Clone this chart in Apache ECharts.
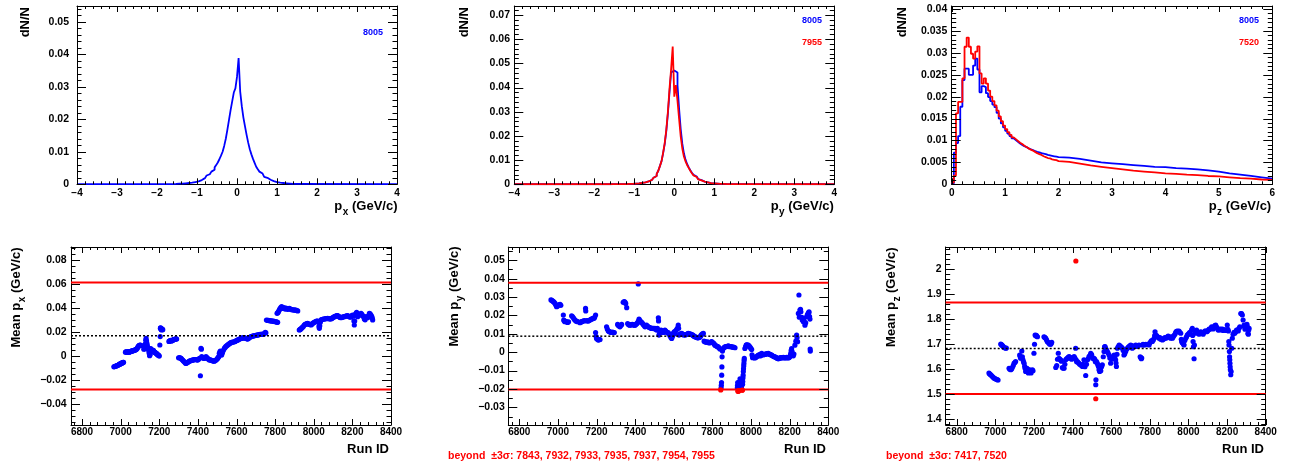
<!DOCTYPE html>
<html><head><meta charset="utf-8">
<script src="https://cdn.jsdelivr.net/npm/echarts@6/dist/echarts.min.js"></script>
<style>html,body{margin:0;padding:0;background:#fff}#c{width:1289px;height:466px}</style>
</head><body><div id="c"></div>
<script>
// ---------------- DATA ----------------
// Histograms (dN/N per bin)
const pxBinStart = -1.6, pxBinWidth = 0.04, pxRange = [-4, 4], pxTailValue = 0.00003;
const px8005 = [0.0001,0.0001,0.0001,0.0002,0.0002,0.0002,0.0002,0.0003,0.0003,0.0004,0.0004,0.0005,0.0006,0.0007,0.0008,0.0009,0.0011,0.0013,0.0016,0.0019,0.0023,0.0027,0.0031,0.0035,0.0039,0.0045,0.0052,0.0059,0.0067,0.0077,0.0088,0.0100,0.0118,0.0140,0.0168,0.0198,0.0228,0.0255,0.0282,0.0295,
  0.0330,0.0388,0.0285,0.0240,0.0205,0.0178,0.0152,0.0128,0.0108,0.0092,0.0078,0.0066,0.0054,0.0046,0.0039,0.0033,0.0027,0.0023,0.0020,0.0017,0.0014,0.0012,0.0010,0.0009,0.0007,0.0006,0.0005,0.0004,0.0004,0.0003,0.0003,0.0002,0.0002,0.0002,0.0001,0.0001,0.0001,0.0001,0.0001,0.0001];

const pyBinStart = -1.6, pyBinWidth = 0.04, pyRange = [-4, 4], pyTailValue = 0.00003;
const py8005 = [0.0001,0.0001,0.0001,0.0001,0.0001,0.0001,0.0001,0.0001,0.0001,0.0001,0.0002,0.0002,0.0002,0.0002,0.0002,0.0003,0.0003,0.0004,0.0005,0.0006,0.0007,0.0008,0.0010,0.0012,0.0015,0.0018,0.0022,0.0027,0.0034,0.0043,0.0056,0.0075,0.0095,0.0128,0.0166,0.0220,0.0292,0.0380,0.0462,0.0470,
  0.0470,0.0462,0.0410,0.0312,0.0228,0.0168,0.0128,0.0102,0.0084,0.0070,0.0058,0.0048,0.0039,0.0032,0.0026,0.0021,0.0017,0.0014,0.0011,0.0009,0.0008,0.0006,0.0005,0.0004,0.0004,0.0003,0.0003,0.0003,0.0002,0.0002,0.0002,0.0002,0.0001,0.0001,0.0001,0.0001,0.0001,0.0001,0.0001,0.0001];
const py7955 = [0.0001,0.0001,0.0001,0.0001,0.0001,0.0001,0.0001,0.0001,0.0001,0.0001,0.0002,0.0002,0.0002,0.0002,0.0002,0.0003,0.0003,0.0004,0.0005,0.0006,0.0007,0.0008,0.0010,0.0012,0.0015,0.0018,0.0022,0.0027,0.0034,0.0043,0.0056,0.0075,0.0095,0.0130,0.0170,0.0225,0.0300,0.0395,0.0475,0.0569,
  0.0362,0.0410,0.0345,0.0270,0.0198,0.0148,0.0115,0.0095,0.0080,0.0068,0.0056,0.0046,0.0037,0.0030,0.0025,0.0020,0.0016,0.0013,0.0011,0.0009,0.0008,0.0006,0.0005,0.0004,0.0004,0.0003,0.0003,0.0003,0.0002,0.0002,0.0002,0.0002,0.0001,0.0001,0.0001,0.0001,0.0001,0.0001,0.0001,0.0001];

const pzRange = [0, 6];
const pzFineStart = 0, pzFineWidth = 0.04;      // 0 .. 2
const pzCoarseStart = 2, pzCoarseWidth = 0.2;   // 2 .. 6
const pz8005Fine = [0.0002,0.0072,0.0094,0.0110,0.0177,0.0238,0.0264,0.0264,0.0250,0.0250,0.0271,0.0287,0.0262,0.0210,0.0224,0.0222,0.0208,0.0199,0.0190,0.0182,
  0.0176,0.0163,0.0150,0.0139,0.0130,0.0122,0.0116,0.0110,0.0105,0.0101,0.0097,0.0093,0.0090,0.0087,0.0085,0.0082,0.0080,0.0078,0.0076,0.0074,
  0.0073,0.0071,0.0070,0.0069,0.0067,0.0066,0.0065,0.0064,0.0063,0.0062];
const pz8005Coarse = [0.0061,0.0058,0.0054,0.0050,0.0048,0.0046,0.0044,0.0042,0.0040,0.0039,0.0037,0.0036,0.0034,0.0032,0.0029,0.0025,0.0022,0.0019,0.0016,0.0013];
const pz7520Fine = [0.0004,0.0020,0.0162,0.0188,0.0188,0.0242,0.0314,0.0335,0.0314,0.0298,0.0287,0.0303,0.0315,0.0253,0.0230,0.0242,0.0230,0.0214,0.0200,0.0190,
  0.0180,0.0168,0.0155,0.0144,0.0134,0.0126,0.0119,0.0113,0.0107,0.0103,0.0099,0.0095,0.0092,0.0088,0.0085,0.0082,0.0079,0.0077,0.0074,0.0071,
  0.0069,0.0067,0.0064,0.0062,0.0060,0.0059,0.0057,0.0056,0.0055,0.0053];
const pz7520Coarse = [0.0051,0.0047,0.0043,0.0040,0.0037,0.0034,0.0031,0.0029,0.0027,0.0025,0.0024,0.0022,0.0021,0.0019,0.0018,0.0016,0.0014,0.0013,0.0011,0.0010];

// Run-by-run means: [run, mean]
const meanPx = [[6965,-0.0092],[6968,-0.0090],[6972,-0.0088],[6975,-0.0086],[6978,-0.0085],[6982,-0.0082],[6985,-0.0080],[6988,-0.0077],[6990,-0.0075],[6993,-0.0072],[6995,-0.0070],[6998,-0.0068],[7000,-0.0066],[7003,-0.0064],[7005,-0.0062],[7008,-0.0060],[7010,-0.0058],[7013,-0.0056],[7015,-0.0055],
[7025,0.0030],[7028,0.0033],[7030,0.0032],[7033,0.0029],[7035,0.0028],[7038,0.0031],[7040,0.0034],[7043,0.0032],[7045,0.0030],[7048,0.0033],[7050,0.0035],[7053,0.0036],[7055,0.0038],[7058,0.0039],[7060,0.0040],[7063,0.0041],[7065,0.0042],[7068,0.0044],[7070,0.0045],[7073,0.0047],[7075,0.0050],[7078,0.0051],[7080,0.0052],[7083,0.0056],[7085,0.0060],[7088,0.0068],[7090,0.0075],[7093,0.0080],[7095,0.0085],[7098,0.0087],[7100,0.0088],[7103,0.0087],[7105,0.0086],
[7120,0.0055],[7123,0.0058],[7125,0.0060],[7127,0.0090],[7128,0.0100],[7130,0.0130],[7132,0.0145],[7134,0.0125],[7135,0.0110],[7137,0.0095],[7138,0.0080],[7140,0.0070],[7143,0.0060],[7145,0.0050],[7147,0.0035],[7148,0.0020],[7150,0.0000],[7153,0.0010],[7155,0.0060],[7158,0.0055],[7160,0.0050],[7163,0.0045],[7165,0.0040],[7168,0.0042],[7170,0.0045],[7173,0.0035],[7175,0.0030],[7178,0.0028],[7180,0.0025],[7183,0.0022],[7185,0.0020],[7188,0.0015],[7190,0.0010],[7193,0.0008],[7195,0.0005],[7198,0.0002],[7200,-0.0003],
[7203,0.0090],[7205,0.0160],[7206,0.0230],[7207,0.0234],[7208,0.0225],[7210,0.0220],[7212,0.0215],[7213,0.0225],[7215,0.0222],[7218,0.0218],
[7250,0.0120],[7253,0.0122],[7255,0.0125],[7258,0.0127],[7260,0.0128],[7263,0.0124],[7265,0.0125],[7268,0.0128],[7270,0.0130],[7273,0.0133],[7275,0.0135],[7278,0.0137],[7280,0.0138],[7283,0.0139],[7285,0.0140],[7288,0.0141],[7290,0.0140],
[7300,-0.0017],[7305,-0.0015],[7310,-0.0020],[7313,-0.0022],[7317,-0.0030],[7321,-0.0036],[7325,-0.0043],[7330,-0.0050],[7334,-0.0058],[7338,-0.0064],[7342,-0.0060],[7347,-0.0056],[7351,-0.0050],[7356,-0.0045],[7360,-0.0042],[7365,-0.0040],[7370,-0.0037],[7373,-0.0036],[7378,-0.0034],[7382,-0.0032],[7386,-0.0033],[7390,-0.0031],[7395,-0.0034],[7399,-0.0036],[7404,-0.0030],[7408,-0.0022],[7413,-0.0167],[7416,0.0061],[7418,0.0055],[7420,-0.0008],[7425,-0.0015],[7429,-0.0020],[7433,-0.0022],[7438,-0.0015],[7442,-0.0008],[7446,-0.0015],[7451,-0.0022],[7455,-0.0030],[7459,-0.0036],[7464,-0.0034],[7468,-0.0036],[7472,-0.0040],[7477,-0.0042],[7481,-0.0044],[7485,-0.0045],[7490,-0.0040],[7494,-0.0036],[7498,-0.0030],[7502,-0.0022],[7505,-0.0015],[7508,-0.0008],[7511,0.0020],[7514,0.0030],[7516,0.0039],[7520,0.0015],[7523,0.0006],[7526,0.0020],[7528,0.0033],[7532,0.0045],[7537,0.0061],[7541,0.0070],[7545,0.0078],[7550,0.0084],[7554,0.0089],[7558,0.0095],[7562,0.0100],[7567,0.0105],[7571,0.0109],[7575,0.0112],[7580,0.0115],[7584,0.0114],[7589,0.0117],[7593,0.0120],[7597,0.0125],[7602,0.0128],[7606,0.0131],[7610,0.0134],[7615,0.0139],[7619,0.0142],[7623,0.0145],[7628,0.0147],[7632,0.0149],[7636,0.0150],[7641,0.0151],[7645,0.0148],[7650,0.0144],[7654,0.0141],[7658,0.0139],[7662,0.0145],[7667,0.0152],[7671,0.0156],[7675,0.0159],[7680,0.0162],[7684,0.0164],[7688,0.0166],[7692,0.0167],[7697,0.0169],[7701,0.0171],[7705,0.0172],[7709,0.0173],[7714,0.0175],[7718,0.0177],[7722,0.0178],[7727,0.0179],[7731,0.0178],[7736,0.0180],[7741,0.0179],[7745,0.0187],[7749,0.0195],[7752,0.0192],
[7755,0.0298],[7760,0.0296],[7765,0.0295],[7770,0.0293],[7775,0.0292],[7780,0.0291],[7785,0.0290],[7790,0.0289],[7795,0.0287],[7800,0.0285],[7805,0.0283],[7810,0.0280],[7813,0.0279],
[7810,0.0354],[7814,0.0360],[7817,0.0368],[7821,0.0380],[7824,0.0390],[7827,0.0396],[7830,0.0404],[7834,0.0410],[7838,0.0400],[7842,0.0395],[7845,0.0402],[7848,0.0396],[7852,0.0390],[7856,0.0398],[7860,0.0393],[7865,0.0388],[7869,0.0392],[7874,0.0396],[7878,0.0390],[7882,0.0388],[7886,0.0385],[7890,0.0384],[7896,0.0382],[7900,0.0383],[7904,0.0380],[7908,0.0382],[7912,0.0378],[7917,0.0374],
[7925,0.0215],[7928,0.0218],[7931,0.0222],[7934,0.0225],[7938,0.0232],[7942,0.0238],[7946,0.0245],[7951,0.0257],[7955,0.0262],[7960,0.0265],[7964,0.0268],[7968,0.0271],[7972,0.0266],[7977,0.0262],[7981,0.0260],[7986,0.0257],[7990,0.0264],[7994,0.0270],[7998,0.0275],[8003,0.0279],[8007,0.0283],[8012,0.0287],[8016,0.0289],[8020,0.0290],[8024,0.0280],[8027,0.0245],[8029,0.0229],[8031,0.0250],[8034,0.0280],[8038,0.0299],[8042,0.0302],[8046,0.0304],[8050,0.0306],[8055,0.0307],[8059,0.0309],[8063,0.0310],[8068,0.0311],[8072,0.0312],[8076,0.0310],[8081,0.0309],[8085,0.0308],[8089,0.0307],[8094,0.0312],[8098,0.0318],[8103,0.0322],[8107,0.0326],[8111,0.0330],[8116,0.0333],[8120,0.0335],[8124,0.0335],[8128,0.0330],[8133,0.0324],[8137,0.0320],[8141,0.0318],[8145,0.0320],[8150,0.0323],[8154,0.0325],[8158,0.0326],[8163,0.0330],[8167,0.0332],[8171,0.0334],[8176,0.0335],[8180,0.0330],[8184,0.0326],[8189,0.0322],[8193,0.0326],[8197,0.0335],[8201,0.0340],[8205,0.0330],[8208,0.0290],[8210,0.0257],[8212,0.0290],[8215,0.0345],[8219,0.0354],[8222,0.0362],[8225,0.0345],[8227,0.0326],[8231,0.0335],[8236,0.0340],[8240,0.0348],[8245,0.0354],[8249,0.0345],[8253,0.0335],[8258,0.0325],[8262,0.0307],[8266,0.0300],[8271,0.0326],[8275,0.0320],[8279,0.0318],[8283,0.0330],[8288,0.0354],[8292,0.0350],[8296,0.0340],[8300,0.0330],[8303,0.0315],[8305,0.0299]];

const meanPy = [[6964,0.0284],[6968,0.0282],[6972,0.0279],[6976,0.0275],[6980,0.0272],[6985,0.0265],[6989,0.0256],[6993,0.0247],[6997,0.0250],[7002,0.0256],[7006,0.0258],[7011,0.0260],[7015,0.0255],
[7028,0.0202],[7030,0.0175],[7033,0.0170],[7036,0.0166],[7040,0.0168],[7045,0.0165],[7050,0.0162],[7055,0.0165],
[7071,0.0198],[7075,0.0194],[7080,0.0187],[7084,0.0180],[7088,0.0175],[7093,0.0170],[7097,0.0168],[7102,0.0166],
[7114,0.0160],[7118,0.0163],[7123,0.0166],[7127,0.0168],[7131,0.0169],[7137,0.0172],[7143,0.0238],[7144,0.0224],[7147,0.0170],[7152,0.0172],[7157,0.0169],[7161,0.0172],[7166,0.0175],[7170,0.0178],[7175,0.0180],[7179,0.0182],[7183,0.0184],[7187,0.0185],[7190,0.0190],[7195,0.0202],
[7195,0.0107],[7198,0.0085],[7200,0.0075],[7204,0.0070],[7209,0.0066],[7213,0.0068],[7218,0.0069],
[7252,0.0138],[7256,0.0125],[7261,0.0115],[7265,0.0112],[7270,0.0110],[7274,0.0108],[7278,0.0107],[7283,0.0109],[7287,0.0106],[7292,0.0107],
[7309,0.0151],[7313,0.0145],[7317,0.0142],[7321,0.0138],[7326,0.0145],[7330,0.0151],
[7338,0.0271],[7343,0.0275],[7347,0.0273],[7351,0.0265],[7356,0.0242],
[7361,0.0156],[7365,0.0150],[7369,0.0148],[7373,0.0147],[7377,0.0149],[7381,0.0150],[7385,0.0151],[7390,0.0148],[7395,0.0147],[7399,0.0147],[7403,0.0150],[7408,0.0155],[7413,0.0162],[7416,0.0371],[7418,0.0170],[7420,0.0180],[7422,0.0175],[7425,0.0169],[7429,0.0166],[7433,0.0162],[7437,0.0158],[7442,0.0151],[7446,0.0145],[7451,0.0138],[7455,0.0142],[7459,0.0147],[7464,0.0140],[7468,0.0138],[7472,0.0135],[7477,0.0133],[7481,0.0131],[7485,0.0129],[7490,0.0130],[7494,0.0129],[7498,0.0128],[7502,0.0129],[7507,0.0125],[7511,0.0120],[7515,0.0130],[7520,0.0187],[7521,0.0170],[7523,0.0093],[7527,0.0105],[7530,0.0110],[7534,0.0120],[7538,0.0115],[7542,0.0110],[7546,0.0107],[7550,0.0112],[7554,0.0120],[7558,0.0115],[7562,0.0110],[7567,0.0105],[7571,0.0107],[7575,0.0100],[7580,0.0090],[7585,0.0080],[7589,0.0075],[7593,0.0085],[7597,0.0102],[7602,0.0110],[7605,0.0100],[7609,0.0115],[7613,0.0120],[7618,0.0130],[7623,0.0147],[7625,0.0130],[7627,0.0093],[7632,0.0098],[7636,0.0100],[7641,0.0102],[7645,0.0098],[7650,0.0094],[7654,0.0096],[7658,0.0093],[7662,0.0095],[7667,0.0097],[7671,0.0100],[7675,0.0102],[7680,0.0100],[7684,0.0098],[7688,0.0099],[7692,0.0096],[7697,0.0094],[7701,0.0090],[7705,0.0087],[7709,0.0084],[7714,0.0082],[7718,0.0080],[7722,0.0078],[7727,0.0078],[7731,0.0080],[7736,0.0083],[7740,0.0090],[7744,0.0096],[7748,0.0100],[7753,0.0102],
[7757,0.0060],[7761,0.0057],[7765,0.0055],[7770,0.0054],[7774,0.0056],[7779,0.0053],[7783,0.0050],[7787,0.0052],[7792,0.0055],[7796,0.0057],[7800,0.0054],[7805,0.0050],[7809,0.0045],[7813,0.0038],[7818,0.0035],[7822,0.0033],[7826,0.0030],[7830,0.0029],[7834,0.0024],[7839,0.0017],
[7845,-0.0194],[7846,-0.0180],[7847,-0.0165],[7848,-0.0125],[7849,-0.0080],[7850,-0.0025],[7852,0.0006],[7856,0.0020],[7860,0.0025],[7865,0.0029],[7869,0.0030],[7874,0.0031],[7878,0.0032],[7882,0.0035],[7886,0.0032],[7890,0.0030],[7895,0.0031],[7899,0.0029],[7903,0.0028],[7908,0.0027],[7912,0.0026],[7917,0.0024],
[7929,-0.0194],[7930,-0.0180],[7931,-0.0165],[7936,-0.0185],[7939,-0.0175],[7941,-0.0160],[7943,-0.0145],[7950,-0.0190],[7952,-0.0180],[7956,-0.0175],[7957,-0.0160],[7958,-0.0140],[7959,-0.0125],[7960,-0.0105],[7961,-0.0090],[7962,-0.0075],[7963,-0.0061],[7964,-0.0045],[7965,-0.0034],[7968,0.0020],[7972,0.0030],[7975,0.0038],[7977,0.0040],[7981,0.0039],[7986,0.0038],[7990,0.0033],[7994,0.0029],[7998,0.0022],[8003,0.0015],[8005,-0.0015],[8008,-0.0030],[8012,-0.0025],[8016,-0.0030],[8020,-0.0031],[8025,-0.0028],[8029,-0.0025],[8033,-0.0020],[8038,-0.0016],[8042,-0.0020],[8046,-0.0012],[8050,-0.0020],[8055,-0.0007],[8059,-0.0012],[8063,-0.0015],[8068,-0.0012],[8072,-0.0012],[8076,-0.0010],[8081,-0.0008],[8085,-0.0010],[8089,-0.0007],[8094,-0.0010],[8098,-0.0012],[8103,-0.0015],[8107,-0.0016],[8111,-0.0020],[8116,-0.0022],[8120,-0.0025],[8124,-0.0025],[8128,-0.0028],[8133,-0.0031],[8137,-0.0034],[8141,-0.0036],[8145,-0.0034],[8150,-0.0031],[8154,-0.0030],[8158,-0.0031],[8163,-0.0030],[8167,-0.0028],[8172,-0.0030],[8176,-0.0031],[8180,-0.0030],[8185,-0.0028],[8189,-0.0030],[8193,-0.0031],[8197,-0.0029],[8201,-0.0025],[8204,-0.0015],[8206,-0.0005],[8208,0.0010],[8210,0.0020],[8212,0.0005],[8215,-0.0012],[8219,-0.0020],[8222,-0.0010],
[8227,0.0038],[8232,0.0060],[8236,0.0093],[8238,0.0080],[8241,0.0057],[8245,0.0211],[8248,0.0311],[8250,0.0190],[8253,0.0229],[8256,0.0233],[8258,0.0220],[8262,0.0190],[8265,0.0175],[8268,0.0185],[8271,0.0166],[8275,0.0170],[8279,0.0147],[8283,0.0160],[8288,0.0193],[8292,0.0205],[8296,0.0211],[8299,0.0215],[8300,0.0220],[8303,0.0193],[8305,0.0180],[8306,0.0017],[8307,0.0006]];
const meanPyOut = [[7843,-0.0205],[7932,-0.0213],[7933,-0.0210],[7935,-0.0212],[7937,-0.0209],[7954,-0.0207],[7955,-0.0206]];

const meanPz = [[6967,1.585],[6970,1.582],[6973,1.580],[6976,1.578],[6980,1.575],[6985,1.571],[6989,1.568],[6993,1.565],[6997,1.563],[7002,1.561],[7006,1.560],[7011,1.558],[7014,1.557],
[7028,1.701],[7031,1.699],[7034,1.697],[7036,1.695],[7040,1.692],[7045,1.687],[7049,1.686],[7054,1.684],[7057,1.685],
[7071,1.604],[7075,1.600],[7080,1.598],[7084,1.601],[7088,1.607],[7093,1.615],[7097,1.624],[7101,1.627],[7105,1.631],
[7126,1.657],[7129,1.650],[7131,1.644],[7137,1.673],[7140,1.650],[7143,1.638],[7146,1.630],[7149,1.624],[7152,1.612],[7154,1.604],[7157,1.591],[7160,1.598],[7163,1.604],[7166,1.602],[7168,1.590],[7171,1.585],[7174,1.592],[7178,1.598],[7182,1.590],[7185,1.585],[7188,1.594],[7192,1.598],[7195,1.594],[7200,1.664],[7203,1.700],[7206,1.737],[7209,1.734],[7212,1.736],[7215,1.732],[7218,1.730],
[7252,1.730],[7255,1.728],[7258,1.726],[7261,1.724],[7265,1.718],[7269,1.711],[7273,1.708],[7278,1.704],[7282,1.700],[7287,1.700],[7290,1.705],[7292,1.708],
[7313,1.607],[7318,1.615],[7322,1.640],[7326,1.664],[7330,1.644],[7334,1.640],[7338,1.638],[7342,1.632],[7347,1.607],[7351,1.604],[7356,1.604],[7360,1.620],[7364,1.638],[7369,1.642],[7373,1.644],[7377,1.648],[7382,1.651],[7386,1.648],[7390,1.644],[7395,1.640],[7399,1.644],[7404,1.648],[7408,1.651],[7412,1.645],[7416,1.684],[7418,1.638],[7421,1.630],[7425,1.631],[7429,1.627],[7433,1.624],[7437,1.620],[7442,1.618],[7446,1.615],[7451,1.611],[7455,1.620],[7459,1.638],[7464,1.610],[7468,1.575],[7472,1.620],[7477,1.638],[7481,1.642],[7485,1.651],[7490,1.655],[7494,1.664],[7497,1.660],[7499,1.657],
[7505,1.645],[7508,1.642],[7511,1.644],[7515,1.640],[7518,1.630],[7520,1.538],[7521,1.558],[7524,1.631],[7528,1.624],[7531,1.618],[7534,1.611],[7537,1.598],[7540,1.591],[7543,1.600],[7546,1.594],[7550,1.610],[7554,1.618],[7559,1.650],[7563,1.671],[7566,1.690],[7568,1.691],[7571,1.684],[7575,1.678],[7580,1.671],[7584,1.665],[7589,1.657],[7593,1.645],[7597,1.624],[7602,1.640],[7606,1.644],[7610,1.651],[7615,1.657],[7619,1.650],[7623,1.638],[7625,1.625],[7627,1.611],[7630,1.660],[7632,1.684],[7636,1.690],[7641,1.697],[7645,1.694],[7649,1.691],[7654,1.688],[7658,1.684],[7662,1.675],[7666,1.657],[7670,1.662],[7675,1.671],[7679,1.680],[7684,1.684],[7688,1.688],[7692,1.691],[7697,1.694],[7701,1.697],[7705,1.695],[7709,1.684],[7714,1.688],[7718,1.691],[7722,1.694],[7727,1.697],[7731,1.694],[7735,1.691],[7740,1.695],[7744,1.697],[7750,1.650],[7753,1.647],[7756,1.642],[7758,1.645],[7761,1.697],[7765,1.700],[7770,1.697],[7775,1.698],[7779,1.700],[7785,1.699],[7790,1.700],[7796,1.697],[7800,1.705],[7805,1.711],[7809,1.715],[7813,1.711],[7818,1.717],[7822,1.724],[7825,1.735],[7827,1.750],[7830,1.737],[7835,1.735],[7840,1.730],[7845,1.728],[7848,1.724],[7852,1.727],[7856,1.720],[7860,1.722],[7865,1.717],[7870,1.720],[7874,1.724],[7878,1.727],[7882,1.724],[7887,1.726],[7891,1.730],[7895,1.733],[7899,1.730],[7904,1.728],[7908,1.724],[7913,1.730],[7917,1.724],[7921,1.730],[7925,1.735],[7930,1.740],[7934,1.748],[7938,1.752],[7943,1.753],[7947,1.750],[7951,1.753],[7955,1.748],[7960,1.744],[7963,1.720],[7965,1.711],[7968,1.706],[7972,1.704],[7975,1.700],[7977,1.697],[7981,1.715],[7986,1.724],[7990,1.730],[7994,1.737],[7998,1.740],[8003,1.744],[8007,1.748],[8012,1.740],[8016,1.757],[8020,1.764],[8022,1.735],[8024,1.711],[8026,1.690],[8029,1.642],[8031,1.697],[8034,1.744],[8038,1.750],[8042,1.757],[8046,1.748],[8050,1.744],[8055,1.740],[8059,1.744],[8063,1.750],[8068,1.748],[8072,1.744],[8076,1.740],[8081,1.748],[8085,1.753],[8089,1.753],[8094,1.750],[8098,1.752],[8103,1.757],[8107,1.761],[8111,1.760],[8116,1.764],[8120,1.770],[8124,1.764],[8128,1.761],[8132,1.770],[8137,1.775],[8141,1.777],[8145,1.770],[8150,1.764],[8154,1.757],[8158,1.757],[8163,1.760],[8167,1.761],[8172,1.757],[8176,1.761],[8180,1.755],[8185,1.757],[8189,1.758],[8193,1.757],[8197,1.755],[8201,1.777],[8204,1.760],[8207,1.753],[8209,1.711],[8210,1.697],[8212,1.671],[8213,1.650],[8214,1.638],[8215,1.624],[8216,1.610],[8217,1.598],[8219,1.578],[8221,1.591],[8224,1.684],[8227,1.724],[8231,1.740],[8236,1.748],[8240,1.744],[8245,1.750],[8249,1.757],[8253,1.757],[8258,1.753],[8262,1.764],[8266,1.770],[8271,1.823],[8275,1.823],[8279,1.817],[8283,1.797],[8288,1.777],[8290,1.770],[8293,1.760],[8296,1.770],[8300,1.777],[8303,1.780],[8305,1.770],[8308,1.744],[8310,1.740],[8312,1.757],[8314,1.764]];
const meanPzOut = [[7417,2.033],[7520,1.482]];

// mean, +3 sigma, -3 sigma lines
const statPx = {mean: 0.0167, hi: 0.0611, lo: -0.0281};
const statPy = {mean: 0.0087, hi: 0.0378, lo: -0.0203};
const statPz = {mean: 1.683, hi: 1.867, lo: 1.501};

// axis ranges and tick labels
const runRange = [6743, 8400];
const runTicks = [6800, 7000, 7200, 7400, 7600, 7800, 8000, 8200, 8400];
const pxTicks = [-4,-3,-2,-1,0,1,2,3,4];
const pzTicks = [0,1,2,3,4,5,6];
const dndnPxTicks = [0,0.01,0.02,0.03,0.04,0.05];
const dndnPyTicks = [0,0.01,0.02,0.03,0.04,0.05,0.06,0.07];
const dndnPzTicks = [0,0.005,0.01,0.015,0.02,0.025,0.03,0.035,0.04];
const meanPxTicks = [-0.04,-0.02,0,0.02,0.04,0.06,0.08];
const meanPyTicks = [-0.03,-0.02,-0.01,0,0.01,0.02,0.03,0.04,0.05];
const meanPzTicks = [1.4,1.5,1.6,1.7,1.8,1.9,2];
const outlierText = {py: 'beyond  \u00b13\u03c3: 7843, 7932, 7933, 7935, 7937, 7954, 7955', pz: 'beyond  \u00b13\u03c3: 7417, 7520'};

// ---------------- BUILD ----------------
const FONT = '"Liberation Sans", Arial, Helvetica, sans-serif';
const BLUE = '#0000ff', RED = '#ff0000';

function stepPoints(start, width, counts, range, tail) {
  const pts = [];
  if (range && range[0] < start) { pts.push([range[0], tail]); pts.push([start, tail]); }
  counts.forEach((v, i) => { pts.push([start + i*width, v]); pts.push([start + (i+1)*width, v]); });
  const end = start + counts.length*width;
  if (range && range[1] > end) { pts.push([end, tail]); pts.push([range[1], tail]); }
  return pts;
}
function pzPoints(fine, coarse) {
  return stepPoints(pzFineStart, pzFineWidth, fine).concat(stepPoints(pzCoarseStart, pzCoarseWidth, coarse));
}
const fmt = v => String(+v.toFixed(6)).replace('-', '\u2212');

const grids = [], xAxes = [], yAxes = [], series = [];
function minorsOf(majors, step, range) {
  const out = [];
  const n0 = Math.ceil((majors[0] - range[0]) / step - 1e-9);
  for (let k = -n0; ; k++) {
    const v = +(majors[0] + k*step).toFixed(6);
    if (v > range[1] + 1e-9) break;
    if (v < range[0] - 1e-9) continue;
    if (majors.some(m => Math.abs(m - v) < step/10)) continue;
    out.push(v);
  }
  return out;
}
function addAxes(list, gi, dim, range, majors, o) {
  const pA = dim === 'x' ? 'bottom' : 'left', pB = dim === 'x' ? 'top' : 'right';
  const base = {gridIndex: gi, type: 'value', min: range[0], max: range[1], splitLine: {show: false}, axisTick: {show: false},
    axisLine: {show: true, onZero: false, lineStyle: {color: '#000', width: 1}}};
  const idx = list.length;
  list.push(Object.assign({}, base, {position: pA,
    axisLabel: {show: true, customValues: majors, margin: o.margin, fontSize: o.fs, fontWeight: 'bold', fontFamily: FONT, color: '#000', formatter: fmt, hideOverlap: false}}));
  list.push(Object.assign({}, base, {position: pB, axisLabel: {show: false}}));
  return idx;
}
// frame ticks (ROOT style, pointing inwards on all four sides), positioned through the axis scales
function tickSeries(ax, xr, yr, xMaj, xMinStep, yMaj, yMinStep, L) {
  const specs = [];
  xMaj.forEach(v => specs.push({d: 'x', v, len: L.xMaj}));
  minorsOf(xMaj, xMinStep, xr).forEach(v => specs.push({d: 'x', v, len: L.xMin}));
  yMaj.forEach(v => specs.push({d: 'y', v, len: L.yMaj}));
  minorsOf(yMaj, yMinStep, yr).forEach(v => specs.push({d: 'y', v, len: L.yMin}));
  series.push({type: 'custom', xAxisIndex: ax.xi, yAxisIndex: ax.yi, silent: true, animation: false, clip: false, z: 5,
    data: specs.map(s => s.d === 'x' ? [s.v, yr[0]] : [xr[0], s.v]),
    renderItem: (params, api) => {
      const s = specs[params.dataIndex];
      const cs = params.coordSys;
      const style = {stroke: '#000', lineWidth: 1};
      if (s.d === 'x') {
        const px = Math.round(api.coord([s.v, yr[0]])[0]) + 0.5;
        const b = cs.y + cs.height, t = cs.y;
        return {type: 'group', children: [
          {type: 'line', shape: {x1: px, y1: b, x2: px, y2: b - s.len}, style},
          {type: 'line', shape: {x1: px, y1: t, x2: px, y2: t + s.len}, style}]};
      }
      const py = Math.round(api.coord([xr[0], s.v])[1]) + 0.5;
      const l = cs.x, r = cs.x + cs.width;
      return {type: 'group', children: [
        {type: 'line', shape: {x1: l, y1: py, x2: l + s.len, y2: py}, style},
        {type: 'line', shape: {x1: r, y1: py, x2: r - s.len, y2: py}, style}]};
    }});
}
function panel(g, xr, xt, xms, yr, yt, yms, yMargin, xMargin, yFs) {
  const gi = grids.length;
  grids.push({left: g[0], top: g[1], width: g[2], height: g[3], show: false, containLabel: false});
  const xi = addAxes(xAxes, gi, 'x', xr, xt, {margin: xMargin, fs: 10});
  const yi = addAxes(yAxes, gi, 'y', yr, yt, {margin: yMargin, fs: yFs});
  const ax = {xi, yi};
  tickSeries(ax, xr, yr, xt, xms, yt, yms, {xMaj: 6, xMin: 3, yMaj: 9, yMin: 4.5});
  return ax;
}
function hist(ax, data, color, z) {
  series.push({type: 'line', xAxisIndex: ax.xi, yAxisIndex: ax.yi, data, showSymbol: false, symbol: 'none', silent: true,
    lineStyle: {color, width: 1.8}, z: z || 2, clip: true, animation: false});
}
function scatter(ax, data, color, z) {
  series.push({type: 'scatter', xAxisIndex: ax.xi, yAxisIndex: ax.yi, data, symbol: 'circle', symbolSize: 5.2,
    itemStyle: {color, opacity: 1}, z: z || 3, silent: true, animation: false});
}
function hline(ax, v, color, type, width, z) {
  series.push({type: 'line', xAxisIndex: ax.xi, yAxisIndex: ax.yi, data: [[runRange[0], v], [runRange[1], v]], showSymbol: false, symbol: 'none',
    lineStyle: {color, width, type}, z: z || 4, silent: true, animation: false});
}

// top row
const a1 = panel([77, 6, 320, 178.3], pxRange, pxTicks, 0.2, [0, 0.0548], dndnPxTicks, 0.002, 8, 4, 10.5);
hist(a1, stepPoints(pxBinStart, pxBinWidth, px8005, pxRange, pxTailValue), BLUE);
const a2 = panel([514.3, 6, 320, 178.3], pyRange, pxTicks, 0.2, [0, 0.0737], dndnPyTicks, 0.002, 4.3, 4, 10.5);
hist(a2, stepPoints(pyBinStart, pyBinWidth, py8005, pyRange, pyTailValue), BLUE, 2);
hist(a2, stepPoints(pyBinStart, pyBinWidth, py7955, pyRange, pyTailValue), RED, 3);
const a3 = panel([951.7, 6, 320.6, 178.3], pzRange, pzTicks, 0.2, [0, 0.0407], dndnPzTicks, 0.001, 4.4, 4, 10.5);
hist(a3, pzPoints(pz8005Fine, pz8005Coarse), BLUE, 2);
hist(a3, pzPoints(pz7520Fine, pz7520Coarse), RED, 3);

// bottom row
const a4 = panel([71, 247, 320, 178], runRange, runTicks, 40, [-0.0578, 0.0908], meanPxTicks, 0.005, 4.3, 2, 10.5);
scatter(a4, meanPx, BLUE);
hline(a4, statPx.hi, RED, 'solid', 2); hline(a4, statPx.lo, RED, 'solid', 2); hline(a4, statPx.mean, '#000', [2, 2], 1.5);
const a5 = panel([508.3, 247, 320, 178], runRange, runTicks, 40, [-0.0396, 0.0572], meanPyTicks, 0.005, 3.5, 2, 10.5);
scatter(a5, meanPy, BLUE);
hline(a5, statPy.hi, RED, 'solid', 2); hline(a5, statPy.lo, RED, 'solid', 2); hline(a5, statPy.mean, '#000', [2, 2], 1.5);
scatter(a5, meanPyOut, RED, 6);
const a6 = panel([945.7, 247, 320, 178], runRange, runTicks, 40, [1.377, 2.089], meanPzTicks, 0.02, 4, 2, 10.5);
scatter(a6, meanPz, BLUE);
hline(a6, statPz.hi, RED, 'solid', 2); hline(a6, statPz.lo, RED, 'solid', 2); hline(a6, statPz.mean, '#000', [2, 2], 1.5);
scatter(a6, meanPzOut, RED, 6);

// texts
const graphic = [];
const mctx = document.createElement('canvas').getContext('2d');
function tw(s, fs) { mctx.font = 'bold ' + fs + 'px ' + FONT; return mctx.measureText(s).width; }
function txt(x, y, text, o) {
  graphic.push({type: 'text', x, y, rotation: o.rot || 0, silent: true, z: 100,
    style: {text, fill: o.color || '#000', fontSize: o.fs || 13, fontWeight: 'bold', fontFamily: FONT,
      align: o.align || 'left', verticalAlign: o.va || 'middle'}});
}
// title with subscript; (x, y) = right end of text, on the main text centre line
function subTitle(x, y, pre, sub, post, rot) {
  const FS = 13, SFS = 10, DROP = 6;
  const w1 = tw(pre, FS), w2 = tw(sub, SFS), w3 = tw(post, FS);
  const x0 = -(w1 + w2 + w3);
  const mk = (tx, ty, t, fs) => ({type: 'text', x: tx, y: ty, silent: true,
    style: {text: t, fill: '#000', fontSize: fs, fontWeight: 'bold', fontFamily: FONT, align: 'left', verticalAlign: 'middle'}});
  graphic.push({type: 'group', x, y, rotation: rot || 0, silent: true, z: 100,
    children: [mk(x0, 0, pre, FS), mk(x0 + w1 + 0.5, DROP, sub, SFS), mk(x0 + w1 + w2 + 0.5, 0, post, FS)]});
}
const R90 = Math.PI / 2;
// y titles top
txt(25, 7, 'dN/N', {rot: R90, align: 'right', fs: 13});
txt(464.3, 7, 'dN/N', {rot: R90, align: 'right', fs: 13});
txt(902.3, 7, 'dN/N', {rot: R90, align: 'right', fs: 13});
// x titles top
subTitle(397, 206.5, 'p', 'x', ' (GeV/c)');
subTitle(833.3, 206.5, 'p', 'y', ' (GeV/c)');
subTitle(1270.7, 206.5, 'p', 'z', ' (GeV/c)');
// run labels
txt(373, 33, '8005', {align: 'center', fs: 9, color: BLUE});
txt(812, 21, '8005', {align: 'center', fs: 9, color: BLUE});
txt(812, 43, '7955', {align: 'center', fs: 9, color: RED});
txt(1249, 21, '8005', {align: 'center', fs: 9, color: BLUE});
txt(1249, 43, '7520', {align: 'center', fs: 9, color: RED});
// bottom y titles
subTitle(16.5, 248, 'Mean p', 'x', ' (GeV/c)', R90);
subTitle(454, 247, 'Mean p', 'y', ' (GeV/c)', R90);
subTitle(891, 248, 'Mean p', 'z', ' (GeV/c)', R90);
// Run ID
txt(389, 449, 'Run ID', {align: 'right', fs: 13});
txt(826, 449, 'Run ID', {align: 'right', fs: 13});
txt(1264, 449, 'Run ID', {align: 'right', fs: 13});
// beyond 3 sigma
txt(448, 456, outlierText.py, {align: 'left', fs: 10.5, color: RED});
txt(886, 456, outlierText.pz, {align: 'left', fs: 10.5, color: RED});

const chart = echarts.init(document.getElementById('c'), null, {renderer: 'canvas'});
chart.setOption({animation: false, backgroundColor: '#fff', grid: grids, xAxis: xAxes, yAxis: yAxes, series, graphic});
</script></body></html>
